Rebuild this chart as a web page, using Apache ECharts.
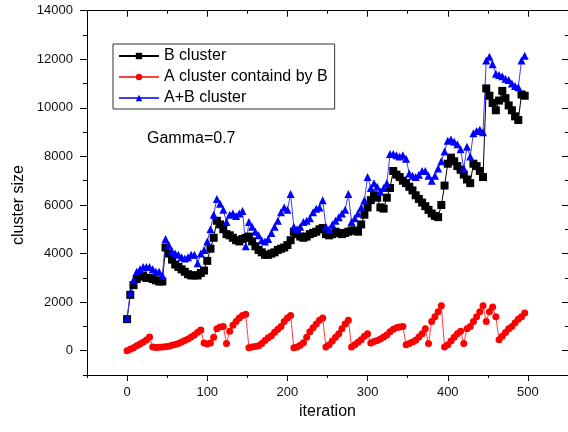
<!DOCTYPE html>
<html>
<head>
<meta charset="utf-8">
<script src="https://cdn.jsdelivr.net/npm/echarts@6/dist/echarts.min.js"></script>
<style>
html, body { margin: 0; padding: 0; background: #fff; }
#main { width: 568px; height: 432px; }
</style>
</head>
<body>
<div id="main"></div>
<script>
var iterations = [0,4,8,12,16,20,24,28,32,36,40,44,48,52,56,60,64,68,72,76,80,84,88,92,96,
    100,104,108,112,116,120,124,128,132,136,140,144,148,152,156,160,164,168,172,176,180,184,188,192,196,
    200,204,208,212,216,220,224,228,232,236,240,244,248,252,256,260,264,268,272,276,280,284,288,292,296,
    300,304,308,312,316,320,324,328,332,336,340,344,348,352,356,360,364,368,372,376,380,384,388,392,396,
    400,404,408,412,416,420,424,428,432,436,440,444,448,452,456,460,464,468,472,476,480,484,488,492,496];

var bCluster = [1300,2300,2700,2950,3050,3100,3000,3000,2950,2900,2850,2850,4250,4000,3750,3550,3450,3350,3250,3150,3100,3100,3100,3200,3300,
    3700,4200,4650,5350,5200,5000,4800,4750,4650,4550,4500,4600,4650,4700,4500,4300,4150,4050,3950,3950,4000,4050,4150,4200,4250,
    4350,4550,4900,4800,4700,4650,4700,4800,4850,4900,5000,5050,4800,4750,4800,4900,4850,4800,4850,4900,4950,4950,4900,5200,5600,
    5900,6200,6400,6300,5900,5850,6300,6700,7400,7250,7150,7000,6900,6750,6600,6400,6250,6100,5950,5800,5650,5550,5500,6000,6800,
    7700,7950,7800,7600,7450,7250,7050,6900,7700,7600,7400,7150,10800,10500,10200,9900,10300,10700,10400,10100,9900,9650,9500,10550,10500];

var aCluster = [0,60,120,200,280,350,440,560,150,130,140,150,160,180,220,260,300,360,420,480,560,650,760,850,320,
    280,320,550,900,980,1000,300,800,1050,1200,1350,1450,1500,120,150,170,200,300,420,530,620,760,880,1000,1200,
    1350,1450,120,150,220,330,550,780,950,1100,1250,1350,150,250,400,550,700,900,1100,1250,150,250,350,450,600,
    700,320,380,420,480,560,650,780,880,950,980,1000,250,300,360,430,560,700,900,300,1200,1400,1600,1850,150,
    250,400,550,700,800,300,900,1000,1200,1400,1600,1850,1200,1600,1800,1400,450,600,750,900,1000,1150,1300,1400,1550];

var abCluster = [1350,2400,2900,3250,3350,3450,3450,3450,3350,3250,3250,3100,4600,4350,4100,4000,3950,3850,3800,3850,3950,3950,3600,4000,4150,
    4500,5000,5600,6250,6050,5800,5300,5600,5650,5550,5650,5750,4300,5300,5100,4900,4750,4550,4500,4600,4850,5100,5350,5700,5900,
    5800,6450,5100,5000,5100,5300,5350,5450,5700,5850,5900,6200,5100,5000,5200,5350,5500,5650,5800,6450,5300,5450,5650,5900,6200,
    7150,6700,6900,6750,6550,6700,6900,8100,8100,8050,8000,8050,7900,7300,7200,7150,7250,7400,7400,7200,7000,7200,7500,7800,8200,
    8650,8700,8600,8500,8300,7500,8400,8000,8950,9050,9100,9000,11950,12100,11800,11400,11350,11300,11200,11150,11000,10900,10850,11950,12150];

var xMajor = [0, 100, 200, 300, 400, 500];
var xMinor = [-50, 50, 150, 250, 350, 450, 550];
var yMajor = [0, 2000, 4000, 6000, 8000, 10000, 12000, 14000];
var yMinor = [-1000, 1000, 3000, 5000, 7000, 9000, 11000, 13000];

var font = 'Liberation Sans, Arial, sans-serif';

function pairs(vals) {
    return iterations.map(function (it, i) { return [it, vals[i]]; });
}

function plain(v) { return String(v); }

function xAx(pos, ticks, len, inside, withLine, withLabel) {
    return {
        type: 'value', min: -50, max: 550, position: pos,
        splitLine: { show: false },
        axisLine: { show: withLine, onZero: false, lineStyle: { color: '#000', width: 1 } },
        axisTick: { show: true, inside: inside, length: len, customValues: ticks, lineStyle: { color: '#000' } },
        axisLabel: withLabel ? { show: true, customValues: ticks, formatter: plain, margin: 11, fontSize: 13, fontFamily: font, color: '#111' } : { show: false }
    };
}

function yAx(pos, ticks, len, inside, withLine, withLabel) {
    return {
        type: 'value', min: -1000, max: 14000, position: pos,
        splitLine: { show: false },
        axisLine: { show: withLine, onZero: false, lineStyle: { color: '#000', width: 1 } },
        axisTick: { show: true, inside: inside, length: len, customValues: ticks, lineStyle: { color: '#000' } },
        axisLabel: withLabel ? { show: true, customValues: ticks, formatter: plain, margin: 14, fontSize: 13, fontFamily: font, color: '#111' } : { show: false }
    };
}

var dom = document.getElementById('main');
var myChart = echarts.init(dom);

var xMain = xAx('bottom', xMajor, 6, false, true, true);
xMain.name = 'iteration';
xMain.nameLocation = 'middle';
xMain.nameGap = 27;
xMain.nameTextStyle = { fontSize: 16, fontFamily: font, color: '#000' };

var option = {
    animation: false,
    backgroundColor: '#fff',
    grid: { left: 87, top: 10.7, width: 486.5, height: 364.3 },
    xAxis: [
        xMain,
        xAx('bottom', xMinor, 3, false, false, false),
        xAx('top', xMajor, 6, true, true, false),
        xAx('top', xMinor, 3, true, false, false)
    ],
    yAxis: [
        yAx('left', yMajor, 7, false, true, true),
        yAx('left', yMinor, 4, false, false, false),
        yAx('right', yMajor, 6, true, true, false),
        yAx('right', yMinor, 3, true, false, false)
    ],
    legend: {
        left: 113, top: 44, orient: 'vertical',
        itemWidth: 40, itemHeight: 8, itemGap: 5,
        padding: [4, 7, 3, 5],
        borderColor: '#333', borderWidth: 1, backgroundColor: '#fff',
        textStyle: { fontSize: 16, fontFamily: font, color: '#000' },
        data: ['B cluster', 'A cluster containd by B', 'A+B cluster']
    },
    graphic: [
        { type: 'text', left: 147, top: 131, style: { text: 'Gamma=0.7', font: '16px ' + font, fill: '#000' } },
        { type: 'text', x: 19, y: 205, rotation: Math.PI / 2,
          style: { text: 'cluster size', font: '16px ' + font, fill: '#000', align: 'center', verticalAlign: 'middle' } }
    ],
    series: [
        {
            name: 'B cluster', type: 'line', data: pairs(bCluster),
            symbol: 'rect', symbolSize: 8, showAllSymbol: true,
            itemStyle: { color: '#000' },
            lineStyle: { color: '#000', width: 1 }
        },
        {
            name: 'A cluster containd by B', type: 'line', data: pairs(aCluster),
            symbol: 'circle', symbolSize: 7, showAllSymbol: true,
            itemStyle: { color: '#ff0000' },
            lineStyle: { color: '#ff4040', width: 1 }
        },
        {
            name: 'A+B cluster', type: 'line', data: pairs(abCluster),
            symbol: 'triangle', symbolSize: 8, showAllSymbol: true,
            itemStyle: { color: '#0000ff' },
            lineStyle: { color: '#3a3aff', width: 1 }
        }
    ]
};

if (option && typeof option === "object") {
    myChart.setOption(option, true);
}
</script>
</body>
</html>
